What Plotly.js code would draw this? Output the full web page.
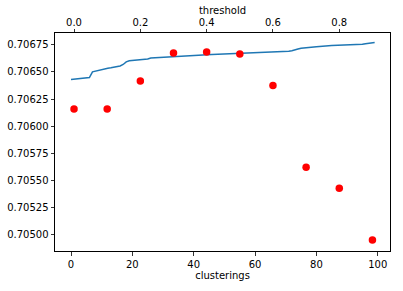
<!DOCTYPE html>
<html>
<head>
<meta charset="utf-8">
<script src="https://cdn.plot.ly/plotly-3.0.1.min.js"></script>
<style>html,body{margin:0;padding:0;background:#fff;}#chart{width:403px;height:291px;}</style>
</head>
<body>
<div id="chart"></div>
<script>
// Line series: score per clustering index (bottom axis)
const clusterings = Array.from({length: 100}, (_, i) => i);
const lineValues = [
  0.706430, 0.706433, 0.706436, 0.706440, 0.706443, 0.706445, 0.706447, 0.706500, 0.706508, 0.706515,
  0.706518, 0.706525, 0.706533, 0.706537, 0.706543, 0.706548, 0.706554, 0.706568, 0.706592, 0.706602,
  0.706605, 0.706608, 0.706610, 0.706612, 0.706613, 0.706618, 0.706628, 0.706630, 0.706630, 0.706630,
  0.706632, 0.706635, 0.706638, 0.706641, 0.706642, 0.706644, 0.706645, 0.706647, 0.706648, 0.706650,
  0.706652, 0.706653, 0.706655, 0.706656, 0.706657, 0.706658, 0.706659, 0.706660, 0.706661, 0.706662,
  0.706663, 0.706664, 0.706665, 0.706667, 0.706667, 0.706668, 0.706669, 0.706670, 0.706671, 0.706672,
  0.706673, 0.706674, 0.706676, 0.706677, 0.706679, 0.706680, 0.706681, 0.706682, 0.706683, 0.706684,
  0.706686, 0.706689, 0.706694, 0.706705, 0.706710, 0.706718, 0.706722, 0.706726, 0.706728, 0.706730,
  0.706732, 0.706734, 0.706738, 0.706741, 0.706741, 0.706742, 0.706743, 0.706744, 0.706746, 0.706747,
  0.706747, 0.706750, 0.706752, 0.706753, 0.706753, 0.706755, 0.706760, 0.706764, 0.706767, 0.706771
];
// Red points: score per threshold (top axis)
const thresholds = [0.0, 0.1, 0.2, 0.3, 0.4, 0.5, 0.6, 0.7, 0.8, 0.9];
const pointValues = [0.706157, 0.706157, 0.706415, 0.706673, 0.706683, 0.706664, 0.706375, 0.705622, 0.705428, 0.704951];
// Tick values
const yTicks = [0.70500, 0.70525, 0.70550, 0.70575, 0.70600, 0.70625, 0.70650, 0.70675];
const xTicks = [0, 20, 40, 60, 80, 100];
const x2Ticks = [0.0, 0.2, 0.4, 0.6, 0.8];

const font = {family: 'DejaVu Sans', size: 10, color: '#000'};
const axisCommon = {
  showgrid: false, zeroline: false, showline: true, linecolor: '#000', linewidth: 1,
  ticks: 'outside', ticklen: 3.5, tickwidth: 0.8, tickcolor: '#000',
  tickfont: font, automargin: false
};

const data = [
  {x: clusterings, y: lineValues, type: 'scatter', mode: 'lines',
   line: {color: '#1f77b4', width: 1.5}, xaxis: 'x', yaxis: 'y', hoverinfo: 'skip'},
  {x: thresholds, y: pointValues, type: 'scatter', mode: 'markers',
   marker: {color: 'red', size: 7.5}, xaxis: 'x2', yaxis: 'y', hoverinfo: 'skip'}
];

const layout = {
  width: 403, height: 291,
  margin: {l: 55, r: 13, t: 33, b: 40, pad: 0},
  paper_bgcolor: '#fff', plot_bgcolor: '#fff',
  showlegend: false, font: font,
  xaxis: Object.assign({}, axisCommon, {
    range: [-5.22, 104.0], tickvals: xTicks, ticktext: xTicks.map(String),
    mirror: true, side: 'bottom',
    title: {text: 'clusterings', font: font, standoff: 2}
  }),
  xaxis2: Object.assign({}, axisCommon, {
    range: [-0.0574, 0.953], tickvals: x2Ticks, ticktext: x2Ticks.map(v => v.toFixed(1)),
    overlaying: 'x', side: 'top', anchor: 'y', ticklabelstandoff: -1,
    title: {text: 'threshold', font: font, standoff: 0}
  }),
  yaxis: Object.assign({}, axisCommon, {
    range: [0.70485, 0.706858], tickvals: yTicks, ticktext: yTicks.map(v => v.toFixed(5)),
    mirror: true
  })
};

Plotly.newPlot('chart', data, layout, {staticPlot: true, displayModeBar: false});
</script>
</body>
</html>
